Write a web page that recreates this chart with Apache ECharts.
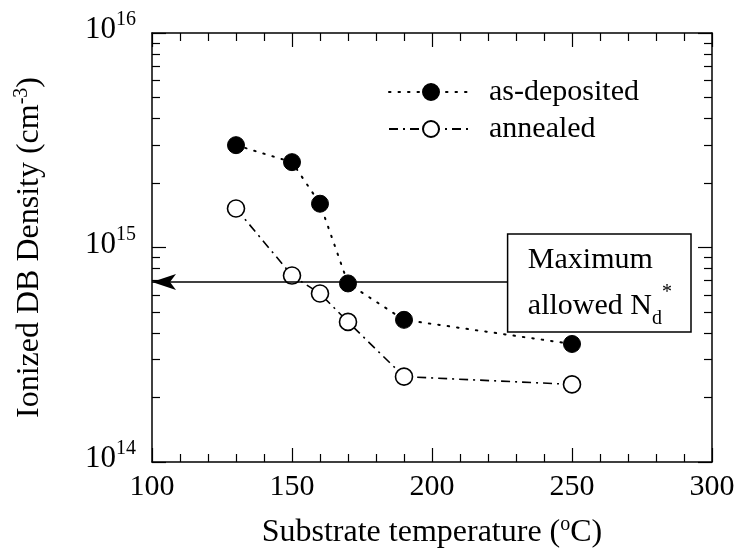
<!DOCTYPE html>
<html><head><meta charset="utf-8">
<script src="https://cdn.jsdelivr.net/npm/echarts@6/dist/echarts.min.js"></script>
<style>html,body{margin:0;padding:0;background:#fff}#c{width:738px;height:554px}</style>
</head><body><div id="c"></div>
<script>
// ---- data ----
const temps = [130, 150, 160, 170, 190, 250];
const asDeposited = [3.0e15, 2.5e15, 1.6e15, 6.8e14, 4.6e14, 3.55e14];
const annealed = [1.52e15, 7.4e14, 6.1e14, 4.5e14, 2.5e14, 2.3e14];
const maxAllowedNd = 6.9e14;
const noteBoxX = [227, 292.5];
const noteBoxY = [4.04e14, 1.156e15];
const xTickValues = [100, 150, 200, 250, 300];
const yMajorTicks = [1e14, 1e15, 1e16];
const yMinorTicks = [2e14, 3e14, 4e14, 5e14, 6e14, 7e14, 8e14, 9e14,
                     2e15, 3e15, 4e15, 5e15, 6e15, 7e15, 8e15, 9e15];
const seriesNames = ['as-deposited', 'annealed'];

const FONT = 'Liberation Serif';
const BLACK = '#000';

const zip = (xs, ys) => xs.map((x, i) => [x, ys[i]]);

function xAxisCfg(pos, labels) {
  return {
    type: 'value', position: pos, min: xTickValues[0], max: xTickValues[xTickValues.length - 1],
    interval: 50,
    axisLine: { show: true, onZero: false, lineStyle: { color: BLACK, width: 1.5 } },
    axisTick: { show: true, inside: true, length: 14, lineStyle: { color: BLACK, width: 1.2 } },
    minorTick: { show: true, splitNumber: 5, length: 8, lineStyle: { color: BLACK, width: 1.2 } },
    splitLine: { show: false },
    axisLabel: labels ? { show: true, fontFamily: FONT, fontSize: 30, color: BLACK, margin: 10 } : { show: false },
    name: labels ? '{n|Substrate temperature (}{s|o}{n|C)}' : '',
    nameLocation: 'middle', nameGap: 53,
    nameTextStyle: {
      rich: {
        n: { fontFamily: FONT, fontSize: 32, color: BLACK, lineHeight: 36 },
        s: { fontFamily: FONT, fontSize: 20, color: BLACK, lineHeight: 16, verticalAlign: 'top' }
      }
    }
  };
}

function yAxisCfg(pos, kind) {
  const base = {
    type: 'log', logBase: 10, position: pos, min: yMajorTicks[0], max: yMajorTicks[yMajorTicks.length - 1],
    splitLine: { show: false },
    axisLabel: { show: false },
    axisLine: { show: false }
  };
  if (kind === 'major') {
    base.axisLine = { show: true, onZero: false, lineStyle: { color: BLACK, width: 1.5 } };
    base.axisTick = { show: true, inside: true, length: 14, customValues: yMajorTicks, lineStyle: { color: BLACK, width: 1.2 } };
  } else {
    base.axisTick = { show: true, inside: true, length: 8, customValues: yMinorTicks, lineStyle: { color: BLACK, width: 1.2 } };
  }
  return base;
}

const yMain = yAxisCfg('left', 'major');
yMain.axisLabel = {
  show: true, margin: 16, customValues: yMajorTicks,
  formatter: v => '{b|10}{s|' + Math.round(Math.log10(v)) + '}',
  padding: [0, 0, 6, 0],
  rich: {
    b: { fontFamily: FONT, fontSize: 31, color: BLACK, lineHeight: 40 },
    s: { fontFamily: FONT, fontSize: 20, color: BLACK, lineHeight: 16, verticalAlign: 'top' }
  }
};
yMain.name = '{n|Ionized DB Density (cm}{s|-3}{n|)}';
yMain.nameLocation = 'middle';
yMain.nameGap = 104;
yMain.nameTextStyle = {
  rich: {
    n: { fontFamily: FONT, fontSize: 32, color: BLACK, lineHeight: 36 },
    s: { fontFamily: FONT, fontSize: 20, color: BLACK, lineHeight: 14, verticalAlign: 'top' }
  }
};

const option = {
  backgroundColor: '#fff',
  animation: false,
  grid: { left: 152, right: 26, top: 33, bottom: 92, containLabel: false },
  legend: {
    data: seriesNames, orient: 'vertical', left: 383, top: 72,
    itemWidth: 84, itemHeight: 20, itemGap: 7,
    textStyle: { fontFamily: FONT, fontSize: 30, color: BLACK, padding: [0, 0, 0, 11] }
  },
  xAxis: [xAxisCfg('bottom', true), xAxisCfg('top', false)],
  yAxis: [yMain, yAxisCfg('left', 'minor'), yAxisCfg('right', 'major'), yAxisCfg('right', 'minor')],
  series: [
    {
      name: seriesNames[0], type: 'line', xAxisIndex: 0, yAxisIndex: 0,
      data: zip(temps, asDeposited),
      symbol: 'circle', symbolSize: 17,
      itemStyle: { color: BLACK, borderColor: BLACK, borderWidth: 1 },
      lineStyle: { color: BLACK, width: 2, type: [1.5, 8], cap: 'round' },
      z: 3
    },
    {
      name: seriesNames[1], type: 'line', xAxisIndex: 0, yAxisIndex: 0,
      data: zip(temps, annealed),
      symbol: 'circle', symbolSize: 17,
      itemStyle: { color: '#fff', borderColor: BLACK, borderWidth: 1.6 },
      lineStyle: { color: BLACK, width: 1.6, type: [9, 5, 2, 5] },
      z: 3
    },
    {
      name: 'note', type: 'line', xAxisIndex: 0, yAxisIndex: 0, data: [], silent: true,
      markLine: {
        silent: true, symbol: ['arrow', 'none'], symbolSize: [12, 24],
        label: { show: false },
        lineStyle: { color: BLACK, width: 1.5, type: 'solid' },
        data: [[{ coord: [xTickValues[0], maxAllowedNd] }, { coord: [noteBoxX[0], maxAllowedNd] }]]
      },
      markArea: {
        silent: true,
        itemStyle: { color: '#fff', borderColor: BLACK, borderWidth: 1.5 },
        label: {
          show: true, position: 'insideLeft', distance: 21,
          formatter: '{a|Maximum}\n{a|allowed N}{d|d}{u|*}',
          rich: {
            a: { fontFamily: FONT, fontSize: 30, color: BLACK, lineHeight: 46 },
            d: { fontFamily: FONT, fontSize: 20, color: BLACK, lineHeight: 16, verticalAlign: 'bottom' },
            u: { fontFamily: FONT, fontSize: 20, color: BLACK, lineHeight: 16, verticalAlign: 'top' }
          }
        },
        data: [[{ coord: [noteBoxX[0], noteBoxY[1]] }, { coord: [noteBoxX[1], noteBoxY[0]] }]]
      }
    }
  ]
};

const chart = echarts.init(document.getElementById('c'), null, { renderer: 'canvas' });
chart.setOption(option);
</script>
</body></html>
